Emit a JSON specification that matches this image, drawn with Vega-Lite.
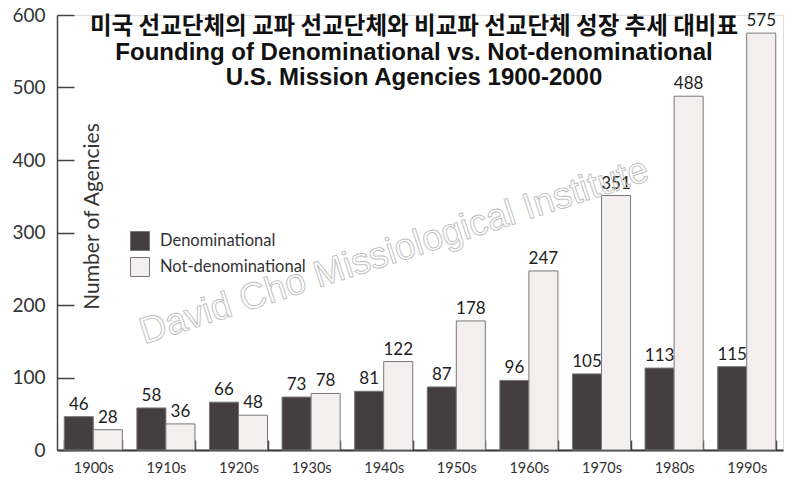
{
  "$schema": "https://vega.github.io/schema/vega-lite/v6.json",
  "width": 726,
  "height": 435,
  "autosize": {"type": "none"},
  "padding": {"left": 57, "top": 15, "right": 17, "bottom": 46},
  "background": "white",
  "title": {
    "text": "미국 선교단체의 교파 선교단체와 비교파 선교단체 성장 추세 대비표",
    "subtitle": [
      "Founding of Denominational vs. Not-denominational",
      "U.S. Mission Agencies 1900-2000"
    ],
    "font": "Noto Sans CJK KR",
    "fontSize": 23.5,
    "fontWeight": "bold",
    "color": "#111",
    "subtitleFont": "Liberation Sans",
    "subtitleFontSize": 24,
    "subtitleFontWeight": "bold",
    "subtitleColor": "#111",
    "subtitleLineHeight": 25,
    "subtitlePadding": 3,
    "anchor": "middle",
    "dx": -6,
    "baseline": "top",
    "offset": -84
  },
  "data": {
    "values": [
      {"decade": "1900s", "type": "Denominational", "count": 46},
      {"decade": "1900s", "type": "Not-denominational", "count": 28},
      {"decade": "1910s", "type": "Denominational", "count": 58},
      {"decade": "1910s", "type": "Not-denominational", "count": 36},
      {"decade": "1920s", "type": "Denominational", "count": 66},
      {"decade": "1920s", "type": "Not-denominational", "count": 48},
      {"decade": "1930s", "type": "Denominational", "count": 73},
      {"decade": "1930s", "type": "Not-denominational", "count": 78},
      {"decade": "1940s", "type": "Denominational", "count": 81},
      {"decade": "1940s", "type": "Not-denominational", "count": 122},
      {"decade": "1950s", "type": "Denominational", "count": 87},
      {"decade": "1950s", "type": "Not-denominational", "count": 178},
      {"decade": "1960s", "type": "Denominational", "count": 96},
      {"decade": "1960s", "type": "Not-denominational", "count": 247},
      {"decade": "1970s", "type": "Denominational", "count": 105},
      {"decade": "1970s", "type": "Not-denominational", "count": 351},
      {"decade": "1980s", "type": "Denominational", "count": 113},
      {"decade": "1980s", "type": "Not-denominational", "count": 488},
      {"decade": "1990s", "type": "Denominational", "count": 115},
      {"decade": "1990s", "type": "Not-denominational", "count": 575}
    ]
  },
  "layer": [
    {
      "mark": {"type": "bar", "stroke": "#777", "strokeWidth": 1},
      "encoding": {
        "x": {
          "field": "decade",
          "type": "nominal",
          "sort": null,
          "scale": {"paddingInner": 0.2, "paddingOuter": 0.1},
          "axis": {
            "title": null,
            "labelAngle": 0,
            "labelFont": "Lato",
            "labelFontSize": 14.5,
            "labelColor": "#333",
            "labelPadding": 21,
            "domainColor": "#333",
            "domainWidth": 2,
            "tickBand": "extent",
            "tickSize": -10,
            "tickColor": "#444",
            "tickWidth": 1.5
          }
        },
        "xOffset": {"field": "type", "type": "nominal"},
        "y": {
          "field": "count",
          "type": "quantitative",
          "scale": {"domain": [0, 600], "nice": false},
          "axis": {
            "values": [0, 100, 200, 300, 400, 500, 600],
            "grid": false,
            "title": "Number of Agencies",
            "titleFont": "Lato",
            "titleFontSize": 21,
            "titleFontWeight": "normal",
            "titleColor": "#333",
            "titleX": 35,
            "titleY": 201,
            "titleAngle": -90,
            "titleAlign": "center",
            "titleBaseline": "middle",
            "labelFont": "Lato",
            "labelFontSize": 19,
            "labelColor": "#333",
            "labelPadding": 29,
            "domainColor": "#444",
            "domainWidth": 1.5,
            "tickSize": -17,
            "tickColor": "#444",
            "tickWidth": 1.5
          }
        },
        "color": {
          "field": "type",
          "type": "nominal",
          "scale": {
            "domain": ["Denominational", "Not-denominational"],
            "range": ["#453e40", "#f4efef"]
          },
          "legend": {
            "title": null,
            "orient": "none",
            "legendX": 73,
            "legendY": 216,
            "symbolType": "square",
            "symbolSize": 361,
            "symbolStrokeColor": "#777",
            "symbolStrokeWidth": 1,
            "labelFont": "Lato",
            "labelFontSize": 16.5,
            "labelColor": "#333",
            "labelOffset": 10,
            "rowPadding": 2
          }
        }
      }
    },
    {
      "mark": {
        "type": "text",
        "baseline": "bottom",
        "dy": -3,
        "font": "Lato",
        "fontSize": 17,
        "color": "#222"
      },
      "encoding": {
        "x": {"field": "decade", "type": "nominal", "sort": null},
        "xOffset": {"field": "type", "type": "nominal"},
        "y": {"field": "count", "type": "quantitative"},
        "text": {"field": "count", "type": "quantitative"}
      }
    },
    {
      "data": {"values": [{"label": "David Cho Missiological Institute", "decade": "1940s", "level": 269}]},
      "mark": {
        "type": "text",
        "font": "Liberation Sans",
        "fontSize": 37,
        "angle": -18,
        "align": "center",
        "baseline": "middle",
        "fill": "white",
        "fillOpacity": 0,
        "stroke": "#bdbdbd",
        "strokeWidth": 0.9,
        "dx": 11
      },
      "encoding": {
        "x": {"field": "decade", "type": "nominal", "sort": null},
        "y": {"field": "level", "type": "quantitative"},
        "text": {"field": "label", "type": "nominal"}
      }
    }
  ]
}
